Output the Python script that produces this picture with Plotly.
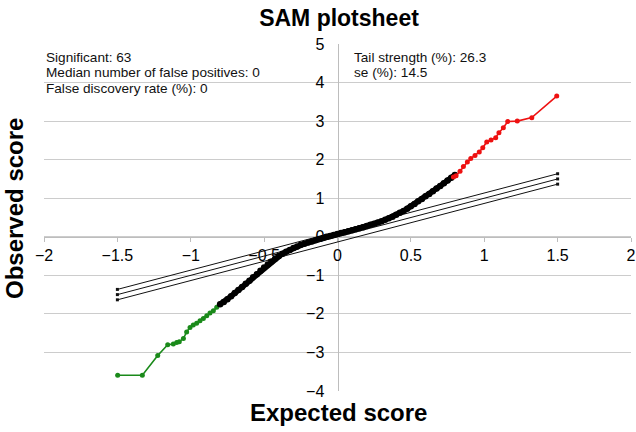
import plotly.graph_objects as go

# ---- data ----
black_x = [-0.80, -0.775, -0.75, -0.725, -0.70, -0.675, -0.65, -0.625, -0.60, -0.575,
           -0.55, -0.525, -0.50, -0.475, -0.45, -0.425, -0.40, -0.375, -0.35, -0.325,
           -0.30, -0.275, -0.25, -0.225, -0.20, -0.175, -0.15, -0.125, -0.10, -0.075,
           -0.05, -0.025, 0.0, 0.025, 0.05, 0.075, 0.10, 0.125, 0.15, 0.175,
           0.20, 0.225, 0.25, 0.275, 0.30, 0.325, 0.35, 0.375, 0.40, 0.425,
           0.45, 0.475, 0.50, 0.525, 0.55, 0.575, 0.60, 0.625, 0.65, 0.675,
           0.70, 0.725, 0.75, 0.775, 0.80]
black_y = [-1.75, -1.69, -1.62, -1.54, -1.46, -1.38, -1.30, -1.22, -1.14, -1.05,
           -0.97, -0.88, -0.80, -0.72, -0.64, -0.57, -0.50, -0.44, -0.39, -0.34,
           -0.29, -0.25, -0.21, -0.18, -0.15, -0.12, -0.09, -0.06, -0.03, 0.00,
           0.02, 0.045, 0.07, 0.095, 0.12, 0.145, 0.17, 0.195, 0.22, 0.25,
           0.28, 0.31, 0.34, 0.37, 0.40, 0.44, 0.48, 0.52, 0.57, 0.62,
           0.67, 0.73, 0.79, 0.85, 0.92, 0.98, 1.05, 1.11, 1.18, 1.25,
           1.32, 1.39, 1.46, 1.53, 1.60]

green_x = [-1.498, -1.33, -1.225, -1.157, -1.119, -1.096, -1.078, -1.05, -1.028,
           -1.005, -0.983, -0.96, -0.937, -0.914, -0.891, -0.869, -0.846, -0.823, -0.796]
green_y = [-3.59, -3.59, -3.08, -2.80, -2.78, -2.74, -2.72, -2.64, -2.47,
           -2.35, -2.29, -2.24, -2.18, -2.12, -2.05, -1.98, -1.92, -1.83, -1.75]

red_x = [0.790, 0.808, 0.835, 0.858, 0.885, 0.908, 0.937, 0.966, 0.99, 1.017,
         1.046, 1.078, 1.10, 1.13, 1.16, 1.225, 1.324, 1.494]
red_y = [1.55, 1.58, 1.70, 1.82, 1.94, 2.03, 2.11, 2.20, 2.31, 2.46,
         2.51, 2.57, 2.70, 2.83, 2.99, 3.00, 3.09, 3.65]

ref_x = [-1.5, 1.5]
ref_mid = [-1.5, 1.5]
ref_upper = [-1.365, 1.635]
ref_lower = [-1.635, 1.365]

x_ticks = [-2, -1.5, -1, -0.5, 0, 0.5, 1, 1.5, 2]
x_ticklabels = ["\u22122", "\u22121.5", "\u22121", "\u22120.5", "0", "0.5", "1", "1.5", "2"]
y_ticks = [-4, -3, -2, -1, 0, 1, 2, 3, 4, 5]
y_ticklabels = ["\u22124", "\u22123", "\u22122", "\u22121", "0", "1", "2", "3", "4", "5"]

stats_left = ["Significant: 63", "Median number of false positives: 0", "False discovery rate (%): 0"]
stats_right = ["Tail strength (%): 26.3", "se (%): 14.5"]

FONT = "Liberation Sans, Arial, sans-serif"
W, H = 636, 432
# plot area in window pixels
PX0, PX1, PY0, PY1 = 44, 631, 44, 391
L, R, T, B = PX0, W - PX1, PY0, H - PY1
PW = PX1 - PX0
PH = PY1 - PY0


def px(wx):
    return (wx - PX0) / PW


def py(wy):
    return (PY1 - wy) / PH


fig = go.Figure()
for yy in (ref_upper, ref_mid, ref_lower):
    fig.add_trace(go.Scatter(x=ref_x, y=yy, mode="lines+markers",
                             line=dict(color="#111111", width=1),
                             marker=dict(symbol="square", size=3, color="#111111"),
                             showlegend=False, hoverinfo="skip"))
fig.add_trace(go.Scatter(x=green_x, y=green_y, mode="lines+markers",
                         line=dict(color="#1a8a1a", width=1.6),
                         marker=dict(size=5, color="#1a8a1a"), showlegend=False))
fig.add_trace(go.Scatter(x=black_x, y=black_y, mode="lines+markers",
                         line=dict(color="#000000", width=5.5),
                         marker=dict(size=6.5, color="#000000"), showlegend=False))
fig.add_trace(go.Scatter(x=red_x, y=red_y, mode="lines+markers",
                         line=dict(color="#ee1111", width=1.6),
                         marker=dict(size=5, color="#ee1111"), showlegend=False))

fig.update_layout(
    width=W, height=H,
    margin=dict(l=L, r=R, t=T, b=B, autoexpand=False),
    paper_bgcolor="white", plot_bgcolor="white",
    font=dict(family=FONT, color="#000000"),
    title=dict(text="<b>SAM plotsheet</b>", x=339 / W, xanchor="center",
               y=1 - 18 / H, yanchor="middle", font=dict(size=23, family=FONT)),
    xaxis=dict(range=[-2, 2], domain=[0, 1], anchor="free", position=4 / 9,
               tickvals=x_ticks, ticktext=x_ticklabels, showgrid=False, zeroline=False,
               showline=True, linecolor="#bdbdbd", linewidth=1,
               ticks="outside", ticklen=4, tickcolor="#bdbdbd", automargin=False,
               ticklabeloverflow="allow",
               tickfont=dict(size=16, family=FONT), layer="below traces"),
    yaxis=dict(range=[-4, 5], domain=[0, 1], anchor="free", position=0.5,
               tickvals=y_ticks, ticktext=y_ticklabels, showgrid=True, gridcolor="#cccccc",
               gridwidth=1, zeroline=False, showline=True, linecolor="#bdbdbd", linewidth=1,
               ticks="", ticklabelstandoff=10, automargin=False,
               tickfont=dict(size=16, family=FONT), layer="below traces"),
)

for i, t in enumerate(stats_left):
    fig.add_annotation(text=t, xref="paper", yref="paper", x=px(44), y=py(57 + 15.8 * i),
                       xanchor="left", yanchor="middle", showarrow=False,
                       font=dict(size=13.6, family=FONT, color="#111111"))
for i, t in enumerate(stats_right):
    fig.add_annotation(text=t, xref="paper", yref="paper", x=px(352), y=py(57 + 15.8 * i),
                       xanchor="left", yanchor="middle", showarrow=False,
                       font=dict(size=13.6, family=FONT, color="#111111"))

fig.add_annotation(text="<b>Observed score</b>", xref="paper", yref="paper",
                   x=px(14), y=py(209), textangle=-90,
                   xanchor="center", yanchor="middle", showarrow=False,
                   font=dict(size=24, family=FONT))
fig.add_annotation(text="<b>Expected score</b>", xref="paper", yref="paper",
                   x=px(339), y=py(412),
                   xanchor="center", yanchor="middle", showarrow=False,
                   font=dict(size=24, family=FONT))

fig.write_html("out.html", config={"displayModeBar": False},
               post_script="document.body.style.margin='0';")
